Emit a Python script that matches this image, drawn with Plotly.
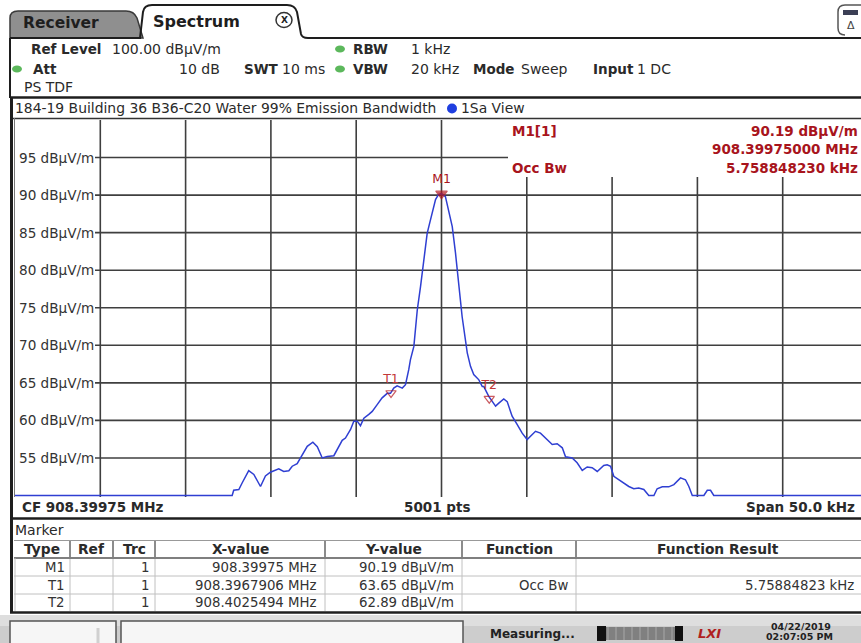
import plotly.graph_objects as go

# ---------------- data ----------------
center_freq_mhz = 908.39975
span_khz = 50.0

freq_offset_khz = [-25.0, -12.27, -12.18, -11.88, -11.68, -11.30, -11.00, -10.61, -10.32, -10.03,
                   -9.54, -9.25, -8.95, -8.75, -8.46, -8.27, -7.87, -7.54, -7.28, -6.99,
                   -6.70, -6.31, -6.11, -5.82, -5.63, -5.33, -5.14, -4.94, -4.75, -4.55,
                   -4.26, -4.06, -3.77, -3.48, -3.18, -2.99, -2.80, -2.60, -2.30, -2.11,
                   -1.92, -1.82, -1.62, -1.42, -1.23, -1.04, -0.84, -0.69, -0.55, -0.35,
                   -0.18, 0.0, 0.23, 0.43, 0.63, 0.82, 1.01, 1.21, 1.51, 1.70,
                   1.89, 2.19, 2.39, 2.48, 2.77, 3.17, 3.36, 3.65, 3.85, 4.14,
                   4.44, 4.73, 5.02, 5.22, 5.51, 5.80, 6.20, 6.49, 6.78, 7.08,
                   7.27, 7.66, 7.95, 8.25, 8.54, 8.83, 9.13, 9.51, 9.71, 9.91,
                   10.10, 10.39, 10.69, 10.98, 11.27, 11.56, 11.86, 12.15, 12.45, 12.64,
                   12.94, 13.32, 13.62, 14.01, 14.30, 14.50, 14.70, 15.38, 15.58, 15.77,
                   15.96, 25.0]
level_dbuv = [50.0, 50.0, 50.7, 50.8, 51.7, 53.3, 52.8, 51.2, 52.6, 53.1,
              53.55, 53.2, 53.3, 53.9, 54.25, 55.0, 56.55, 57.1, 56.5, 55.0,
              55.2, 55.3, 56.2, 57.35, 57.65, 58.8, 59.9, 59.9, 59.3, 60.3,
              60.8, 61.2, 62.1, 63.0, 63.6, 63.6, 64.3, 64.6, 64.3, 64.75,
              66.75, 68.1, 69.85, 74.7, 77.8, 81.4, 84.9, 86.3, 87.6, 89.4,
              90.05, 90.19, 89.8, 88.0, 85.8, 82.3, 77.8, 73.8, 69.0, 67.2,
              66.1, 65.4, 64.5, 64.5, 63.2, 61.9, 62.3, 62.85, 62.5, 60.55,
              59.45, 58.3, 57.45, 57.9, 58.55, 58.3, 57.45, 56.8, 56.9, 56.35,
              55.15, 55.0, 54.35, 53.35, 53.8, 53.7, 53.2, 54.0, 54.1, 53.9,
              52.55, 52.1, 51.7, 51.2, 50.9, 51.0, 50.8, 50.0, 50.0, 50.9,
              51.15, 51.15, 51.45, 52.35, 52.1, 51.2, 50.0, 50.0, 50.7, 50.7,
              50.0, 50.0]

marker_names = ["M1", "T1", "T2"]
marker_freq_mhz = [908.39975, 908.3967906, 908.4025494]
marker_freq_labels = ["908.39975 MHz", "908.3967906 MHz", "908.4025494 MHz"]
marker_level = [90.19, 63.65, 62.89]
marker_trc = ["1", "1", "1"]
marker_function = ["", "Occ Bw", ""]
marker_result = ["", "5.75884823 kHz", ""]

ytick_values = [55, 60, 65, 70, 75, 80, 85, 90, 95]
ytick_labels = [f"{v} dBµV/m" for v in ytick_values]
xgrid_values = [-20, -15, -10, -5, 0, 5, 10, 15, 20]

table_headers = ["Type", "Ref", "Trc", "X-value", "Y-value", "Function", "Function Result"]

# ---------------- layout helpers ----------------
W, H = 861, 643
L, R, T, B = 15, 861, 120, 497
FONT = "DejaVu Sans"
RED = "#a8141c"
DARK = "#2a2a2a"
GRID = "#3f3f3f"


def X(px):
    return (px - L) / (R - L)


def Y(py):
    return (B - py) / (B - T)


annotations = []
shapes = []


def txt(x, y, s, size=14, color=DARK, anchor="left", bold=False, yanchor="middle"):
    annotations.append(dict(x=X(x), y=Y(y), xref="paper", yref="paper",
                            text=f"<b>{s}</b>" if bold else s, showarrow=False,
                            xanchor=anchor, yanchor=yanchor, borderpad=0,
                            font=dict(family=FONT, size=size, color=color)))


def hline(x0, x1, y, color=DARK, width=1.5, layer="above"):
    shapes.append(dict(type="line", xref="paper", yref="paper", x0=X(x0), x1=X(x1),
                       y0=Y(y), y1=Y(y), line=dict(color=color, width=width), layer=layer))


def vline(x, y0, y1, color=DARK, width=1.5, layer="above"):
    shapes.append(dict(type="line", xref="paper", yref="paper", x0=X(x), x1=X(x),
                       y0=Y(y0), y1=Y(y1), line=dict(color=color, width=width), layer=layer))


def rect(x0, y0, x1, y1, fill=None, color=None, width=0, layer="above"):
    shapes.append(dict(type="rect", xref="paper", yref="paper", x0=X(x0), x1=X(x1),
                       y0=Y(y1), y1=Y(y0), fillcolor=fill or "rgba(0,0,0,0)",
                       line=dict(color=color or "rgba(0,0,0,0)", width=width), layer=layer))


def circle(cx, cy, rx, ry, fill, color=None, width=0):
    shapes.append(dict(type="circle", xref="paper", yref="paper", x0=X(cx - rx), x1=X(cx + rx),
                       y0=Y(cy + ry), y1=Y(cy - ry), fillcolor=fill,
                       line=dict(color=color or "rgba(0,0,0,0)", width=width), layer="above"))


def path(cmds, fill=None, color=DARK, width=1.5):
    parts = []
    for c in cmds:
        op = c[0]
        pts = c[1:]
        coords = " ".join(f"{X(pts[i])},{Y(pts[i + 1])}" for i in range(0, len(pts), 2))
        parts.append(f"{op} {coords}")
    shapes.append(dict(type="path", xref="paper", yref="paper", path=" ".join(parts),
                       fillcolor=fill or "rgba(0,0,0,0)", line=dict(color=color, width=width),
                       layer="above"))


# ---------------- grid (drawn below traces) ----------------
for v in xgrid_values:
    shapes.append(dict(type="line", xref="x", yref="paper", x0=v, x1=v, y0=0,
                       y1=1 if v <= 0 else Y(177), line=dict(color=GRID, width=1.6), layer="below"))
for v in ytick_values:
    shapes.append(dict(type="line", xref="paper", yref="y", x0=X(95), x1=X(508) if v == 95 else 1.02,
                       y0=v, y1=v, line=dict(color=GRID, width=1.6), layer="below"))

# ---------------- tab bar ----------------
path([("M", 10, 38), ("L", 10, 18), ("Q", 10, 11, 18, 11), ("L", 126, 11),
      ("Q", 134, 11, 137, 18), ("L", 143, 38), ("Z",)], fill="#8f8f8f", color="#3a3a3a", width=1.5)
txt(22, 23, "Receiver", size=15.5, bold=True, color="#1e1e1e")
path([("M", 140, 38), ("L", 143, 12), ("Q", 144, 5, 152, 5), ("L", 287, 5),
      ("Q", 295, 5, 297, 12), ("L", 301, 34), ("Q", 302, 38, 308, 38), ("L", 875, 38)],
     color="#1e1e1e", width=2)
hline(10, 141, 38, color="#1e1e1e", width=2)
txt(152, 22, "Spectrum", size=16, bold=True, color="#1e1e1e")
circle(284, 20, 8, 7.5, "white", "#333", 1.5)
txt(284, 20.5, "X", size=9, bold=True, anchor="center", color="#222")
path([("M", 845, 35), ("Q", 838, 35, 838, 28), ("L", 838, 12), ("Q", 838, 5, 845, 5), ("L", 875, 5)],
     color="#555", width=1.5)
rect(843, 10, 858, 15, fill="#3b3f55")
txt(851, 25, "Δ", size=11, anchor="center", color="#444")

vline(10, 38, 98, color="#1e1e1e", width=2)

# ---------------- header info ----------------
hy1, hy2, hy3 = 49, 69, 87
txt(30, hy1, "Ref Level", bold=True, size=13.5)
txt(111, hy1, "100.00 dBµV/m")
circle(340, hy1, 5, 3.5, "#5cb85c")
txt(352, hy1, "RBW", bold=True, size=13.5)
txt(410, hy1, "1 kHz")
circle(17, hy2, 5, 3.5, "#5cb85c")
txt(32, hy2, "Att", bold=True, size=13.5)
txt(178, hy2, "10 dB")
txt(243, hy2, "SWT", bold=True, size=13.5)
txt(281, hy2, "10 ms")
circle(340, hy2, 5, 3.5, "#5cb85c")
txt(352, hy2, "VBW", bold=True, size=13.5)
txt(410, hy2, "20 kHz")
txt(472, hy2, "Mode", bold=True, size=13.5)
txt(520, hy2, "Sweep")
txt(592, hy2, "Input", bold=True, size=13.5)
txt(636, hy2, "1 DC")
txt(23, hy3, "PS TDF")

# ---------------- diagram frame ----------------
hline(10, 875, 97.5, color="#1e1e1e", width=2.5)
txt(14, 108, "184-19 Building 36 B36-C20 Water 99% Emission Bandwidth", size=13.9)
circle(452, 108.5, 5, 5, "#1f3fe0")
txt(460, 108, "1Sa View", size=13.9)
hline(10, 875, 118.5, color="#333", width=1.5)
vline(11.5, 97, 519, color="#1e1e1e", width=3)
vline(14.5, 118, 497, color="#777", width=1)
hline(10, 875, 518.5, color="#1e1e1e", width=2.5)

for v, lab in zip(ytick_values, ytick_labels):
    annotations.append(dict(x=X(95), y=v, xref="paper", yref="y", text=lab, showarrow=False,
                            xanchor="right", yanchor="middle", borderpad=0,
                            font=dict(family=FONT, size=13.6, color="#333")))

# marker info (red)
txt(511, 131, "M1[1]", size=13.5, bold=True, color=RED)
txt(859, 131, f"{marker_level[0]:.2f} dBµV/m", size=13.5, bold=True, color=RED, anchor="right")
txt(859, 149, f"{marker_freq_mhz[0]:.8f} MHz", size=13.5, bold=True, color=RED, anchor="right")
txt(511, 168, "Occ Bw", size=13.5, bold=True, color=RED)
txt(859, 168, "5.758848230 kHz", size=13.5, bold=True, color=RED, anchor="right")

# bottom bar
txt(21, 507, f"CF {center_freq_mhz} MHz", size=13.5, bold=True)
txt(437, 507, "5001 pts", size=13.5, bold=True, anchor="center")
txt(856, 507, f"Span {span_khz:.1f} kHz", size=13.5, bold=True, anchor="right")

# ---------------- marker table ----------------
vline(11.5, 519, 613, color="#1e1e1e", width=3)
txt(14, 530, "Marker", size=14)
col_edges = [14, 70, 113, 155, 325, 462, 576, 870]
hline(14, 870, 540.5, color="#999", width=1)
hline(14, 870, 558, color="#555", width=1.5)
for yy in (576, 594):
    hline(14, 870, yy, color="#c0c0c0", width=1)
for xx in col_edges[1:-1]:
    vline(xx, 541, 557, color="#666", width=1.5)
    vline(xx, 559, 611, color="#c0c0c0", width=1)
vline(15, 558, 611, color="#c0c0c0", width=1)
hline(10, 875, 612.5, color="#1e1e1e", width=2.5)
for i, h in enumerate(table_headers):
    txt((col_edges[i] + col_edges[i + 1]) / 2 if i < 6 else 718, 549, h, size=13.8,
        bold=True, anchor="center")
row_y = [567, 585, 602]
for i in range(3):
    txt(66, row_y[i], marker_names[i], size=13.3, anchor="right", color="#333")
    txt(150, row_y[i], marker_trc[i], size=13.3, anchor="right", color="#333")
    txt(318, row_y[i], marker_freq_labels[i], size=13.3, anchor="right", color="#333")
    txt(455, row_y[i], f"{marker_level[i]:.2f} dBµV/m", size=13.3, anchor="right", color="#333")
    if marker_function[i]:
        txt(569, row_y[i], marker_function[i], size=13.3, anchor="right", color="#333")
    if marker_result[i]:
        txt(855, row_y[i], marker_result[i], size=13.3, anchor="right", color="#333")

# ---------------- status bar ----------------
rect(0, 615, 861, 643, fill="#cdcdcd")
rect(0, 615, 861, 626, fill="#dedede")
rect(10, 621, 116, 648, fill="#f6f6f6", color="#555", width=1.5)
rect(121, 621, 463, 648, fill="#f6f6f6", color="#555", width=1.5)
vline(98, 628, 643, color="#d0d0d0", width=3)
txt(532, 634, "Measuring...", size=12, bold=True, anchor="center", color="#222")
rect(600, 627, 680, 640, fill="#808080")
for k in range(1, 10):
    vline(600 + k * 8, 627, 640, color="#a8a8a8", width=1)
rect(597, 626, 606, 641, fill="#111")
rect(675, 626, 683, 641, fill="#111")
txt(709, 633, "<i>LXI</i>", size=13, bold=True, anchor="center", color="#b02020")
txt(801, 626, "04/22/2019", size=9.5, bold=True, anchor="center", color="#222")
txt(799, 636.5, "02:07:05 PM", size=9.5, bold=True, anchor="center", color="#222")

# ---------------- traces ----------------
marker_offsets = [(f - center_freq_mhz) * 1000.0 for f in marker_freq_mhz]

fig = go.Figure()
fig.add_trace(go.Scatter(x=freq_offset_khz, y=level_dbuv, mode="lines",
                         line=dict(color="#2f3fd2", width=1.5), hoverinfo="skip",
                         showlegend=False))
fig.add_trace(go.Scatter(x=marker_offsets, y=marker_level, mode="markers+text",
                         text=marker_names, textposition="top center",
                         textfont=dict(family=FONT, size=12.5, color=["#a8141c", "#c23838", "#c23838"]),
                         marker=dict(symbol=["triangle-down", "triangle-down-open", "triangle-down-open"],
                                     size=[10, 9, 9], color="#b3161e", line=dict(width=1.2, color="#b3161e")),
                         showlegend=False, cliponaxis=False))

fig.update_layout(
    width=W, height=H,
    margin=dict(l=L, r=W - R, t=T, b=H - B, pad=0),
    paper_bgcolor="white", plot_bgcolor="white",
    font=dict(family=FONT, size=13, color=DARK),
    shapes=shapes, annotations=annotations,
    showlegend=False,
)
fig.update_xaxes(range=[-25, -25 + (R - L) / 85.3 * 5], showgrid=False, zeroline=False,
                 showticklabels=False, ticks="", showline=False, fixedrange=True)
fig.update_yaxes(range=[49.8, 100], showgrid=False, zeroline=False,
                 showticklabels=False, ticks="", showline=False, fixedrange=True)

fig.write_html("out.html", config={"displayModeBar": False},
               post_script="document.body.style.margin='0';document.body.style.overflow='hidden';")
